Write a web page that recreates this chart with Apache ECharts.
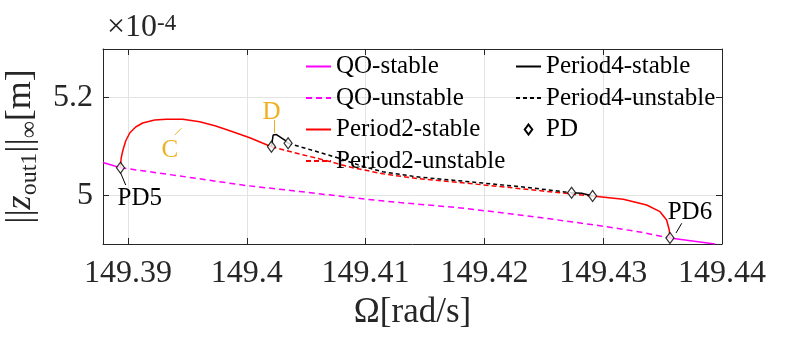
<!DOCTYPE html>
<html>
<head>
<meta charset="utf-8">
<script src="https://cdn.jsdelivr.net/npm/echarts@6/dist/echarts.min.js"></script>
<style>
  html, body { margin: 0; background: #fff; }
  #chart { width: 797px; height: 337px; }
</style>
</head>
<body>
<div id="chart"></div>
<script>
// axis ranges and ticks
const xTicks = [149.39, 149.4, 149.41, 149.42, 149.43, 149.44]
const yTicks = [5, 5.2]

// curves, [Omega, ||z|| * 1e4]
const qoStableLeft = [[149.3879, 5.0672], [149.38937, 5.0565]]
const qoStableRight = [[149.43562, 4.9123], [149.43941, 4.9]]
const qoUnstable = [
  [149.38937, 5.0565], [149.39436, 5.0395], [149.39992, 5.02], [149.40446, 5.0077],
  [149.41011, 4.9917], [149.41289, 4.9851], [149.41836, 4.9732], [149.42468, 4.9544],
  [149.43029, 4.9355], [149.4331, 4.9246], [149.43562, 4.9123]
]
const p2StableLeft = [
  [149.38937, 5.0565], [149.38943, 5.0764], [149.38958, 5.0928], [149.38981, 5.1113],
  [149.39015, 5.1277], [149.39065, 5.14], [149.39124, 5.1482], [149.39225, 5.1544],
  [149.39324, 5.1558], [149.39461, 5.1558], [149.39604, 5.1509], [149.39739, 5.142],
  [149.39882, 5.1304], [149.40025, 5.118], [149.40208, 5.0996]
]
const p2StableRight = [
  [149.42911, 4.9985], [149.43169, 4.9917], [149.43366, 4.98], [149.43478, 4.9663],
  [149.43534, 4.9492], [149.43556, 4.9287], [149.43562, 4.9123]
]
const p2Unstable = [
  [149.40208, 5.0996], [149.40446, 5.0846], [149.40665, 5.0713], [149.40884, 5.0569],
  [149.41145, 5.044], [149.41429, 5.0344], [149.4185, 5.0247], [149.42356, 5.0122],
  [149.42734, 5.0026], [149.42911, 4.9985]
]
const p4StableLeft = [
  [149.40208, 5.0996], [149.40222, 5.1236], [149.4025, 5.1246], [149.4032, 5.1133], [149.40348, 5.1066]
]
const p4StableRight = [[149.42734, 5.0052], [149.42819, 5.004], [149.42911, 4.9985]]
const p4Unstable = [
  [149.40348, 5.1066], [149.40573, 5.0908], [149.40783, 5.0754], [149.40952, 5.061],
  [149.41145, 5.0481], [149.41429, 5.0378], [149.4185, 5.0282], [149.42356, 5.0163],
  [149.42734, 5.0052]
]
const pdPoints = [
  [149.38937, 5.0565], [149.40208, 5.0996], [149.40348, 5.1066],
  [149.42734, 5.0052], [149.42911, 4.9985], [149.43562, 4.9123]
]

// annotations: text [x, y, label, color], arrows [x1, y1, x2, y2, color]
const noteTexts = [
  [149.39352, 5.0928, 'C', '#EDB120'],
  [149.40208, 5.1693, 'D', '#EDB120'],
  [149.39099, 4.9944, 'PD5', '#000'],
  [149.4373, 4.9656, 'PD6', '#000']
]
const noteArrows = [
  [149.39394, 5.1236, 149.3945, 5.1373, '#EDB120'],
  [149.40228, 5.1544, 149.40228, 5.1277, '#EDB120'],
  [149.38981, 5.021, 149.38935, 5.0477, '#000'],
  [149.43661, 4.9425, 149.43613, 4.9226, '#000']
]

const FONT = 'Liberation Serif'
const AXIS_COLOR = '#262626'

// touch the serif font once so the canvas has it before the chart draws
;(function warmFont() {
  const ctx = document.createElement('canvas').getContext('2d')
  ctx.font = '32px "Liberation Serif"'
  ctx.fillText('149.39 Period', 0, 20)
  ctx.font = 'italic 32px "Liberation Serif"'
  ctx.fillText('z', 0, 20)
})()

function curve(name, data, color, type) {
  return {
    name, type: 'line', data, symbol: 'none', smooth: false,
    lineStyle: { color, width: 1.5, type },
    itemStyle: { color },
    z: 3
  }
}

const xBase = {
  type: 'value', min: 149.3879, max: 149.44,
  axisLine: { lineStyle: { color: AXIS_COLOR, width: 1 } },
  axisTick: { inside: true, length: 6, customValues: xTicks, lineStyle: { color: AXIS_COLOR } }
}
const yBase = {
  type: 'value', min: 4.9, max: 5.3,
  axisLine: { lineStyle: { color: AXIS_COLOR, width: 1 } },
  axisTick: { inside: true, length: 6, customValues: yTicks, lineStyle: { color: AXIS_COLOR } }
}

function buildOption() {
  return {
    backgroundColor: '#fff',
    animation: false,
    textStyle: { fontFamily: FONT },
    title: {
      text: '×10{sup|-4}',
      left: 102, top: 7,
      textStyle: {
        fontFamily: FONT, fontSize: 32, fontWeight: 'normal', color: AXIS_COLOR,
        rich: { sup: { fontFamily: FONT, fontSize: 23, color: AXIS_COLOR, verticalAlign: 'top', lineHeight: 23 } }
      }
    },
    grid: { left: 103, right: 75, top: 49, bottom: 93, outerBoundsMode: 'none', containLabel: false },
    legend: [
      {
        data: ['QO-stable', 'QO-unstable', 'Period2-stable', 'Period2-unstable'],
        orient: 'vertical', left: 300, top: 49, itemWidth: 25, itemHeight: 10, itemGap: 6.5,
        itemStyle: { opacity: 0 },
        textStyle: { fontFamily: FONT, fontSize: 25, color: '#000', lineHeight: 24 }
      },
      {
        data: [
          'Period4-stable', 'Period4-unstable',
          { name: 'PD', icon: 'path://M0,0L3,4L0,8L-3,4Z', itemStyle: { opacity: 1 } }
        ],
        orient: 'vertical', left: 510, top: 49, itemWidth: 25, itemHeight: 10, itemGap: 6.5,
        itemStyle: { opacity: 0 },
        textStyle: { fontFamily: FONT, fontSize: 25, color: '#000', lineHeight: 24 }
      }
    ],
    xAxis: [
      Object.assign({}, xBase, {
        position: 'bottom',
        name: 'Ω[rad/s]', nameLocation: 'middle', nameGap: 46,
        nameTextStyle: { fontFamily: FONT, fontSize: 35, color: AXIS_COLOR },
        axisLabel: { customValues: xTicks, fontFamily: FONT, fontSize: 32, color: AXIS_COLOR, margin: 14 },
        splitLine: { show: true, lineStyle: { color: '#e3e3e3', width: 1 } }
      }),
      Object.assign({}, xBase, { position: 'top', axisLabel: { show: false }, splitLine: { show: false } })
    ],
    yAxis: [
      Object.assign({}, yBase, {
        position: 'left',
        name: '||{i|z}{s|out1}||{s|∞}[m]', nameLocation: 'middle', nameGap: 60,
        nameTextStyle: {
          fontFamily: FONT, fontSize: 36, color: AXIS_COLOR, lineHeight: 44, verticalAlign: 'middle',
          rich: {
            i: { fontFamily: FONT, fontSize: 36, fontStyle: 'italic', color: AXIS_COLOR, lineHeight: 44 },
            s: { fontFamily: FONT, fontSize: 24, color: AXIS_COLOR, verticalAlign: 'bottom', lineHeight: 24 }
          }
        },
        axisLabel: { customValues: yTicks, fontFamily: FONT, fontSize: 32, color: AXIS_COLOR, margin: 10 },
        splitLine: { show: true, lineStyle: { color: '#e3e3e3', width: 1 } }
      }),
      Object.assign({}, yBase, { position: 'right', axisLabel: { show: false }, splitLine: { show: false } })
    ],
    series: [
      curve('QO-stable', qoStableLeft, '#ff00ff', 'solid'),
      curve('QO-stable', qoStableRight, '#ff00ff', 'solid'),
      curve('QO-unstable', qoUnstable, '#ff00ff', [6, 4]),
      curve('Period2-stable', p2StableLeft, '#ff0000', 'solid'),
      curve('Period2-stable', p2StableRight, '#ff0000', 'solid'),
      curve('Period2-unstable', p2Unstable, '#ff0000', [5, 3]),
      curve('Period4-stable', p4StableLeft, '#000000', 'solid'),
      curve('Period4-stable', p4StableRight, '#000000', 'solid'),
      curve('Period4-unstable', p4Unstable, '#000000', [4, 3]),
      {
        name: 'PD', type: 'scatter', data: pdPoints, symbol: 'diamond', symbolSize: [8, 11],
        itemStyle: { color: '#fff', borderColor: '#000', borderWidth: 1.3 }, z: 5
      },
      {
        name: 'notes', type: 'line', data: [], z: 6, silent: true,
        markLine: {
          silent: true, symbol: ['none', 'arrow'], symbolSize: [0, 7],
          label: { show: false },
          data: noteArrows.map(a => [
            { coord: [a[0], a[1]], lineStyle: { color: a[4], width: 1, type: 'solid' } },
            { coord: [a[2], a[3]] }
          ])
        },
        markPoint: {
          silent: true, symbol: 'circle', symbolSize: 0,
          data: noteTexts.map(t => ({
            coord: [t[0], t[1]],
            label: { show: true, position: 'inside', formatter: t[2], color: t[3], fontFamily: FONT, fontSize: 25 }
          }))
        }
      }
    ]
  }
}

const chart = echarts.init(document.getElementById('chart'))

function draw() {
  chart.clear()
  chart.setOption(buildOption())
}
draw()
// the system font may only be usable a moment later, so redraw a few times
;[150, 400, 800].forEach(t => setTimeout(draw, t))
</script>
</body>
</html>
